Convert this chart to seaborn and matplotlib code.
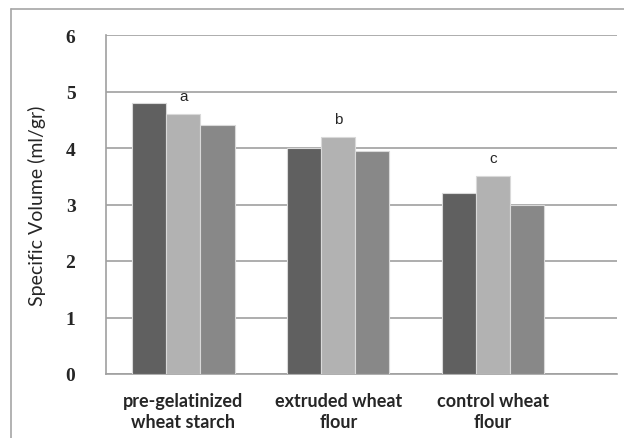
import matplotlib
matplotlib.use('Agg')
import matplotlib.pyplot as plt
import numpy as np
import pandas as pd
import seaborn as sns
from matplotlib.lines import Line2D

# data
categories = ["pre-gelatinized\nwheat starch", "extruded wheat\nflour", "control wheat\nflour"]
series_names = ["s1", "s2", "s3"]
series_1 = [4.8, 4.0, 3.2]
series_2 = [4.6, 4.2, 3.5]
series_3 = [4.4, 3.95, 3.0]
letters = ["a", "b", "c"]
yticks = [0, 1, 2, 3, 4, 5, 6]

bar_colors = ["#606060", "#b2b2b2", "#888888"]

df = pd.DataFrame({
    "category": categories * 3,
    "series": [series_names[0]] * 3 + [series_names[1]] * 3 + [series_names[2]] * 3,
    "value": series_1 + series_2 + series_3,
})

sns.set_style("white")
fig = plt.figure(figsize=(6.24, 4.39), dpi=100)
ax = fig.add_axes([106 / 624, 1 - 375 / 439, (617 - 106) / 624, (375 - 36) / 439])

sns.barplot(data=df, x="category", y="value", hue="series", palette=bar_colors,
            width=0.66, edgecolor="#d9d9d9", linewidth=0.8, ax=ax, legend=False,
            zorder=3)

ax.set_ylim(0, 6)
ax.set_xlim(-0.5, 2.8)
ax.set_yticks(yticks)
ax.set_yticklabels([str(t) for t in yticks], fontfamily="Liberation Serif",
                   fontweight="bold", fontsize=14)
ax.set_xticks(range(len(categories)))
ax.set_xticklabels(categories, fontfamily="Lato", fontweight="bold", fontsize=13,
                   linespacing=1.3)
ax.tick_params(axis="both", length=0)
ax.tick_params(axis="y", pad=22)
ax.tick_params(axis="x", pad=13)
ax.yaxis.grid(True, color="#a0a0a0", linewidth=1.2, zorder=0)
ax.set_axisbelow(True)

ax.set_xlabel("")
ax.set_ylabel("Specific Volume (ml/gr)", fontfamily="Lato", fontsize=14, labelpad=14)

for s in ["top", "right"]:
    ax.spines[s].set_visible(False)
for s in ["left", "bottom"]:
    ax.spines[s].set_color("#a0a0a0")
    ax.spines[s].set_linewidth(1.2)

# significance letters above the middle bars
for i, (v, t) in enumerate(zip(series_2, letters)):
    ax.annotate(t, xy=(i, v), xytext=(0, 8), textcoords="offset points",
                ha="center", va="bottom", fontsize=11, fontfamily="Liberation Sans")

# outer chart frame (clipped at right and bottom like the reference)
fig.add_artist(Line2D([11 / 624, 11 / 624], [0, 1 - 10 / 439], color="#a6a6a6",
                      linewidth=1.2, transform=fig.transFigure))
fig.add_artist(Line2D([11 / 624, 1], [1 - 10 / 439, 1 - 10 / 439], color="#a6a6a6",
                      linewidth=1.2, transform=fig.transFigure))

plt.savefig("out.png", dpi=100)
plt.close()
